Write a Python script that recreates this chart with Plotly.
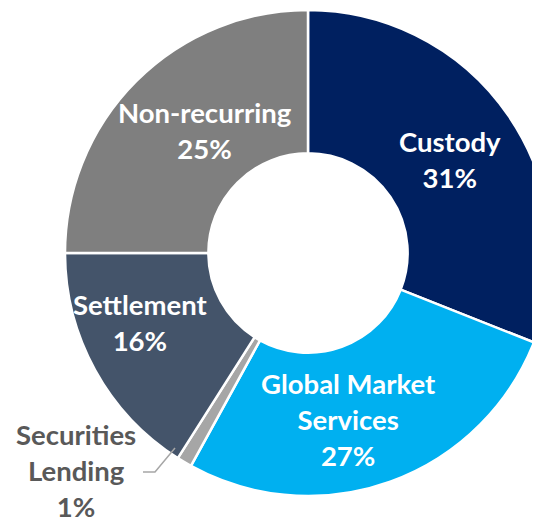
import plotly.graph_objects as go

labels = ["Custody", "Global Market Services", "Securities Lending", "Settlement", "Non-recurring"]
display_names = ["Custody", "Global Market<br>Services", "Securities<br>Lending", "Settlement", "Non-recurring"]
values = [31, 27, 1, 16, 25]
colors = ["#002060", "#00B0F0", "#A6A6A6", "#44546A", "#7F7F7F"]

W, H = 556, 519
# label centres in pixels (from top-left of the figure)
label_pos = [(442, 151), (340, 411), (68, 462), (132, 314), (197, 122)]
label_colors = ["white", "white", "#595959", "white", "white"]

texts = [f"{n}<br>{v}%" for n, v in zip(display_names, values)]

# pie centre (300, 246) px, radius 243 px
cx, cy, r = 300, 245, 243
fig = go.Figure(go.Pie(
    labels=labels,
    values=values,
    textinfo="none",
    sort=False,
    direction="clockwise",
    rotation=0,
    hole=0.41,
    marker=dict(colors=colors, line=dict(color="white", width=2.5)),
    domain=dict(x=[(cx - r) / W, (cx + r) / W], y=[1 - (cy + r) / H, 1 - (cy - r) / H]),
    showlegend=False,
))

for t, (px, py), c in zip(texts, label_pos, label_colors):
    fig.add_annotation(
        x=px / W, y=1 - py / H, xref="paper", yref="paper",
        text=t, showarrow=False, xanchor="center", yanchor="middle",
        font=dict(family="Lato", size=27.5, color=c, weight="bold"),
        align="center",
    )

# leader line for the small slice
leader = [(135, 464), (147, 464), (167, 440)]
path = "M " + " L ".join(f"{x / W},{1 - y / H}" for x, y in leader)
fig.add_shape(type="path", path=path, xref="paper", yref="paper",
              line=dict(color="#A6A6A6", width=1.5))

fig.update_layout(
    width=W, height=H,
    margin=dict(l=0, r=0, t=0, b=0),
    paper_bgcolor="white",
    plot_bgcolor="white",
)

fig.write_html("out.html")
